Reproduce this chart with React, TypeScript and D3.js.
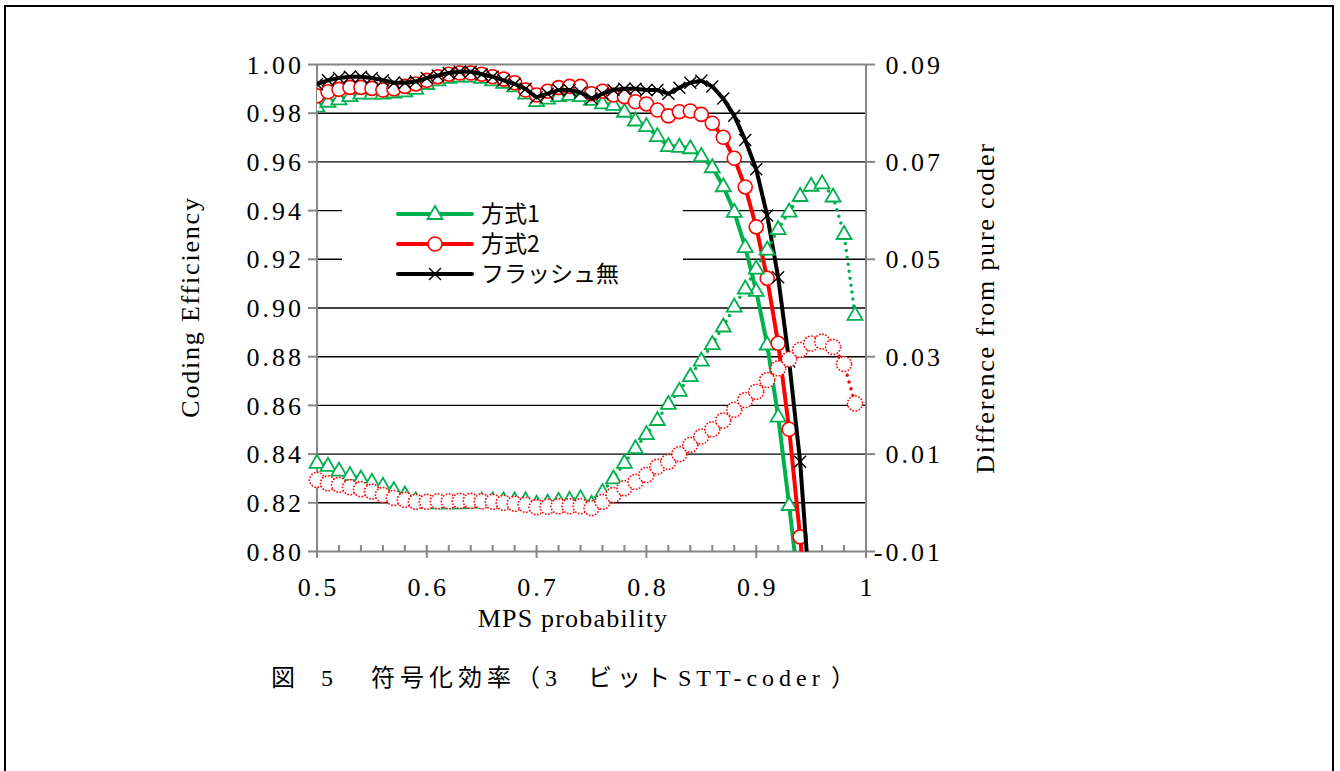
import React from "react";
import * as d3 from "d3";

// MPS probability (x categories)
const probability = [
  0.5, 0.51, 0.52, 0.53, 0.54, 0.55, 0.56, 0.57, 0.58, 0.59,
  0.6, 0.61, 0.62, 0.63, 0.64, 0.65, 0.66, 0.67, 0.68, 0.69,
  0.7, 0.71, 0.72, 0.73, 0.74, 0.75, 0.76, 0.77, 0.78, 0.79,
  0.8, 0.81, 0.82, 0.83, 0.84, 0.85, 0.86, 0.87, 0.88, 0.89,
  0.9, 0.91, 0.92, 0.93, 0.94, 0.95, 0.96, 0.97, 0.98, 0.99,
];

// coding efficiency (left axis)
const effMethod1 = [
  0.9827, 0.9847, 0.9857, 0.987, 0.988, 0.988, 0.988, 0.9885, 0.989, 0.99,
  0.992, 0.9935, 0.9945, 0.995, 0.995, 0.9945, 0.9935, 0.9925, 0.991, 0.988,
  0.985, 0.986, 0.987, 0.9875, 0.987, 0.9855, 0.984, 0.9834, 0.9806, 0.977,
  0.9747, 0.9706, 0.9665, 0.9662, 0.9656, 0.9624, 0.9578, 0.95, 0.9395, 0.925,
  0.907, 0.885, 0.8554, 0.8191, 0.78,
];
const effMethod2 = [
  0.9871, 0.9888, 0.9898, 0.9906, 0.9906, 0.9902, 0.9895, 0.99, 0.991, 0.992,
  0.9935, 0.995, 0.996, 0.9965, 0.9965, 0.996, 0.995, 0.994, 0.9925, 0.9895,
  0.9875, 0.989, 0.9905, 0.991, 0.991, 0.988, 0.989, 0.9875, 0.9868, 0.9847,
  0.9838, 0.9813, 0.9789, 0.9806, 0.9809, 0.9795, 0.9759, 0.9701, 0.9615, 0.9497,
  0.9333, 0.9122, 0.8855, 0.8502, 0.806, 0.76,
];
const effNoFlush = [
  0.992, 0.9935, 0.9945, 0.995, 0.995, 0.9945, 0.9935, 0.9925, 0.9925, 0.993,
  0.9945, 0.9955, 0.9965, 0.997, 0.997, 0.996, 0.995, 0.9935, 0.992, 0.99,
  0.9865, 0.988, 0.9895, 0.9895, 0.9885, 0.986, 0.988, 0.9895, 0.99, 0.99,
  0.9895, 0.9895, 0.988, 0.9905, 0.9925, 0.9933, 0.991, 0.986, 0.979, 0.969,
  0.957, 0.938, 0.9126, 0.878, 0.8369, 0.775,
];

// difference from pure coder (right axis)
const diffMethod1 = [
  0.0082, 0.0076, 0.0066, 0.0057, 0.005, 0.0043, 0.0035, 0.0026, 0.0017, 0.0005,
  0.0, -0.0001, -0.0001, -0.0001, 0.0, 0.0004, 0.0005, 0.0005, 0.0005, 0.0005,
  -0.0002, 0.0, 0.0004, 0.0006, 0.0009, -0.0002, 0.0022, 0.005, 0.0082, 0.0112,
  0.0141, 0.017, 0.0203, 0.023, 0.026, 0.0292, 0.0326, 0.0362, 0.0403, 0.044,
  0.0481, 0.052, 0.0562, 0.0598, 0.063, 0.0651, 0.0656, 0.0629, 0.0552, 0.0386,
];
const diffMethod2 = [
  0.0047, 0.004, 0.0037, 0.0032, 0.0028, 0.0023, 0.0016, 0.001, 0.0006, 0.0002,
  0.0002, 0.0003, 0.0003, 0.0004, 0.0004, 0.0003, 0.0002, 0.0, -0.0002, -0.0004,
  -0.0009, -0.0008, -0.0007, -0.0007, -0.0007, -0.0011, 0.0002, 0.0016, 0.003, 0.0043,
  0.0057, 0.0074, 0.0084, 0.01, 0.0119, 0.0136, 0.0151, 0.0169, 0.0191, 0.0211,
  0.0228, 0.0252, 0.0276, 0.0295, 0.0314, 0.0327, 0.0331, 0.032, 0.0285, 0.0204,
];

const leftTicks = [0.8, 0.82, 0.84, 0.86, 0.88, 0.9, 0.92, 0.94, 0.96, 0.98, 1.0];
const rightTicks = [-0.01, 0.01, 0.03, 0.05, 0.07, 0.09];
const xTicks = [0.5, 0.6, 0.7, 0.8, 0.9, 1.0];
const xMinorTicks = [0.52, 0.54, 0.56, 0.58, 0.62, 0.64, 0.66, 0.68, 0.72, 0.74, 0.76, 0.78,
  0.82, 0.84, 0.86, 0.88, 0.92, 0.94, 0.96, 0.98];
const legendNames = ["方式1", "方式2", "フラッシュ無"];
// caption pieces
const captionParts = ["図", "5", "符号化効率（3", "ビット", "STT-coder", "）"];
const captionX = [271, 321, 371, 588, 678, 831];

const GREEN = "#00B050";
const RED = "#FF0000";
const AXIS = "#868686";
const SERIF = "'Liberation Serif', 'Times New Roman', 'Noto Sans CJK JP', serif";
const GOTHIC = "'Noto Sans CJK JP', sans-serif";

const x = d3.scaleLinear().domain([0.5, 1]).range([317, 866]);
const yL = d3.scaleLinear().domain([0.8, 1.0]).range([551.5, 64.5]);
const yR = d3.scaleLinear().domain([-0.01, 0.09]).range([551.5, 64.5]);

type Pt = [number, number];
const pts = (vals: number[]): Pt[] => vals.map((v, i) => [probability[i], v]);

const triPath = "M0,-8L7.5,5L-7.5,5Z";
const xPath = "M-6,-6L6,6M-6,6L6,-6";

const Marker = ({ kind, cx, cy, dotted }: { kind: string; cx: number; cy: number; dotted?: boolean }) => {
  if (kind === "tri")
    return <path d={triPath} transform={`translate(${cx},${cy})`} fill="white" stroke={GREEN} strokeWidth={1.8} />;
  if (kind === "circ")
    return (
      <circle cx={cx} cy={cy} r={dotted ? 7.5 : 7} fill="white" stroke={RED}
        strokeWidth={1.6} strokeDasharray={dotted ? "1.6 1.6" : undefined} />
    );
  return <path d={xPath} transform={`translate(${cx},${cy})`} fill="none" stroke="black" strokeWidth={1.4} />;
};

const App = () => {
  const lineL = d3.line<Pt>().x(d => x(d[0])).y(d => yL(d[1]));
  const lineR = d3.line<Pt>().x(d => x(d[0])).y(d => yR(d[1]));

  const effSeries = [
    { vals: effMethod1, color: GREEN, kind: "tri" },
    { vals: effMethod2, color: RED, kind: "circ" },
    { vals: effNoFlush, color: "black", kind: "x" },
  ];
  const diffSeries = [
    { vals: diffMethod1, color: GREEN, kind: "tri" },
    { vals: diffMethod2, color: RED, kind: "circ" },
  ];

  return (
    <svg width={1340} height={771} style={{ position: "absolute", left: 0, top: 0, background: "white" }}>
      <rect x={5} y={6} width={1328} height={800} fill="white" stroke="black" strokeWidth={2} />
      <defs>
        <clipPath id="plotClip">
          <rect x={317} y={40} width={549} height={511.5} />
        </clipPath>
      </defs>

      {/* gridlines */}
      {leftTicks.slice(1, -1).map(t => (
        <line key={t} x1={317} x2={866} y1={yL(t)} y2={yL(t)} stroke="black" strokeWidth={1.4} />
      ))}
      <line x1={317} x2={866} y1={yL(1)} y2={yL(1)} stroke={AXIS} strokeWidth={2} />

      {/* axes */}
      <line x1={317} x2={317} y1={64.5} y2={552} stroke={AXIS} strokeWidth={2} />
      <line x1={866} x2={866} y1={64.5} y2={552} stroke={AXIS} strokeWidth={2} />
      <line x1={316} x2={867} y1={551.5} y2={551.5} stroke={AXIS} strokeWidth={2} />
      {leftTicks.map(t => (
        <line key={t} x1={308} x2={317} y1={yL(t)} y2={yL(t)} stroke={AXIS} strokeWidth={2} />
      ))}
      {rightTicks.map(t => (
        <line key={t} x1={866} x2={875} y1={yR(t)} y2={yR(t)} stroke={AXIS} strokeWidth={2} />
      ))}
      {xTicks.map(t => (
        <line key={t} x1={x(t)} x2={x(t)} y1={545} y2={558} stroke={AXIS} strokeWidth={2} />
      ))}
      {xMinorTicks.map(t => (
        <line key={t} x1={x(t)} x2={x(t)} y1={545} y2={551.5} stroke={AXIS} strokeWidth={2} />
      ))}

      {/* tick labels */}
      <g fontFamily={SERIF} fontSize={26} fill="black" letterSpacing={3}>
        {leftTicks.map(t => (
          <text key={t} x={304} y={yL(t)} dy="0.35em" textAnchor="end">{t.toFixed(2)}</text>
        ))}
        {rightTicks.map(t => (
          <text key={t} x={943} y={yR(t)} dy="0.35em" textAnchor="end">{t.toFixed(2)}</text>
        ))}
        {xTicks.map(t => (
          <text key={t} x={x(t) + 1.5} y={596} textAnchor="middle">{t === 1 ? "1" : String(t)}</text>
        ))}
      </g>

      {/* axis titles */}
      <g fontFamily={SERIF} fontSize={26} fill="black">
        <text x={573} y={627} textAnchor="middle" letterSpacing={1.2}>MPS probability</text>
        <text transform="translate(199,307) rotate(-90)" textAnchor="middle" letterSpacing={1.8}>Coding Efficiency</text>
        <text transform="translate(994,308) rotate(-90)" textAnchor="middle" letterSpacing={1.8}>Difference from pure coder</text>
      </g>

      {/* efficiency series */}
      <g clipPath="url(#plotClip)">
        {effSeries.map((s, i) => (
          <g key={i}>
            <path d={lineL(pts(s.vals)) || ""} fill="none" stroke={s.color} strokeWidth={4} strokeLinejoin="round" />
            {pts(s.vals).map((p, j) => (
              <Marker key={j} kind={s.kind} cx={x(p[0])} cy={yL(p[1])} />
            ))}
          </g>
        ))}
      </g>

      {/* difference series */}
      {diffSeries.map((s, i) => (
        <g key={i}>
          <path d={lineR(pts(s.vals)) || ""} fill="none" stroke={s.color} strokeWidth={3.5}
            strokeDasharray="0 7" strokeLinecap="round" />
          {pts(s.vals).map((p, j) => (
            <Marker key={j} kind={s.kind} cx={x(p[0])} cy={yR(p[1])} dotted />
          ))}
        </g>
      ))}

      {/* legend */}
      <rect x={342} y={186} width={341} height={104} fill="white" />
      {legendNames.map((name, i) => {
        const s = effSeries[i];
        const ly = 214 + i * 30;
        return (
          <g key={name}>
            <line x1={398} x2={472} y1={ly} y2={ly} stroke={s.color} strokeWidth={4} strokeLinecap="round" />
            <Marker kind={s.kind} cx={435} cy={ly} />
            <text x={481} y={ly} dy="0.36em" fontFamily={GOTHIC} fontSize={23} fill="black">{name}</text>
          </g>
        );
      })}

      {/* caption */}
      <text y={686} fontFamily={SERIF} fontSize={24} fill="black" letterSpacing={5}>
        {captionParts.map((p, i) => (
          <tspan key={i} x={captionX[i]}>{p}</tspan>
        ))}
      </text>
    </svg>
  );
};

export default App;
